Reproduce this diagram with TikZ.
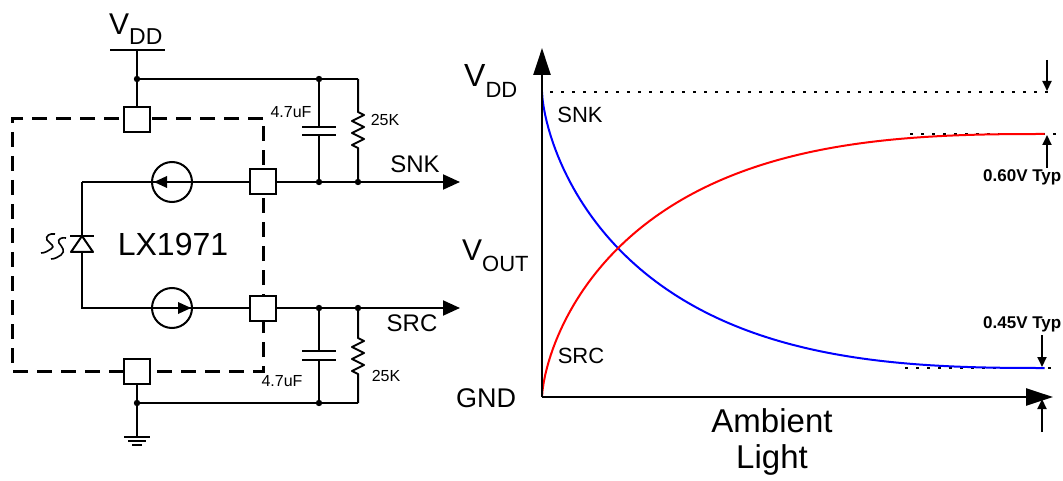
\documentclass[tikz,border=0pt]{standalone}
\usepackage{fontspec}
\setmainfont{Liberation Sans}
\usetikzlibrary{arrows.meta}
\newcommand\fsz[1]{\fontsize{#1}{#1}\selectfont}
\tikzset{
  wire/.style={line width=2pt},
  pinbox/.style={draw, fill=white, line width=2pt, minimum width=26pt, minimum height=25pt, inner sep=0pt},
  isrc/.style={draw, circle, line width=2pt, minimum size=40pt, inner sep=0pt},
  lbl/.style={inner sep=0pt},
  typline/.style={dash pattern=on 2.5pt off 8.5pt, line width=2.5pt},
  bigtip/.style={-{Triangle[length=17pt,width=15pt]}},
  axtip/.style={-{Triangle[length=27pt,width=17pt]}},
  smalltip/.style={-{Triangle[length=10pt,width=9pt]}},
}
\begin{document}
\begin{tikzpicture}[x=1pt,y=-1pt]
\useasboundingbox (0,0) rectangle (1063,481);

\draw[line width=3pt, dash pattern=on 15pt off 9pt] (263,119) -- (12,119) -- (12,371) -- (263,371) -- cycle;
\node[pinbox] (pvdd) at (137,120) {};
\node[pinbox] (psnk) at (263,182) {};
\node[pinbox] (psrc) at (263,308) {};
\node[pinbox] (pgnd) at (137,371) {};
\node[isrc] (isnk) at (172,182) {};
\node[isrc] (isrcs) at (172,308) {};

\coordinate (vbar) at (137,50);
\coordinate (jv) at (137,79);
\coordinate (jc1) at (319,79);
\coordinate (rc1) at (358,79);
\coordinate (jsnkc) at (319,182);
\coordinate (jsnkr) at (358,182);
\coordinate (snkend) at (460,182);
\coordinate (dtop) at (82,182);
\coordinate (dbot) at (82,308);
\coordinate (jsrcc) at (319,308);
\coordinate (jsrcr) at (358,308);
\coordinate (srcend) at (460,308);
\coordinate (jg) at (137,403);
\coordinate (jc2) at (319,403);
\coordinate (rc2) at (358,403);
\coordinate (gnd) at (137,437);
\coordinate (c1a) at (319,127);
\coordinate (c1b) at (319,135);
\coordinate (c2a) at (319,351);
\coordinate (c2b) at (319,360);

\draw[wire] (110,50) -- (165,50);
\draw[wire] (vbar) -- (jv) -- (pvdd);
\draw[wire] (jv) -- (jc1) -- (rc1);
\draw[wire] (dtop) -- (psnk);
\draw[wire, bigtip] (psnk) -- (snkend);
\draw[wire] (dtop) -- (dbot) -- (psrc);
\draw[wire, bigtip] (psrc) -- (srcend);
\draw[wire] (pgnd) -- (jg) -- (gnd);
\draw[wire] (jg) -- (jc2) -- (rc2);

\draw[wire] (jc1) -- (c1a) (c1b) -- (jsnkc);
\draw[wire] ([xshift=-17pt]c1a) -- ([xshift=17pt]c1a) ([xshift=-17pt]c1b) -- ([xshift=17pt]c1b);
\draw[wire] (jsrcc) -- (c2a) (c2b) -- (jc2);
\draw[wire] ([xshift=-17pt]c2a) -- ([xshift=17pt]c2a) ([xshift=-17pt]c2b) -- ([xshift=17pt]c2b);
\draw[wire, line join=round] (rc1) -- (358,112) -- ++(6,3) -- ++(-12,6) -- ++(12,6) -- ++(-12,6) -- ++(12,6) -- ++(-12,6) -- ++(6,3) -- (jsnkr);
\draw[wire, line join=round] (jsrcr) -- (358,338) -- ++(6,3) -- ++(-12,6) -- ++(12,6) -- ++(-12,6) -- ++(12,6) -- ++(-12,6) -- ++(6,3) -- (rc2);

\draw[wire] (124,437) -- (150,437) (128,441) -- (146,441) (132,445) -- (142,445);
\foreach \j in {jv,jc1,jsnkc,jsnkr,jsrcc,jsrcr,jg,jc2} \fill (\j) circle (3.2pt);

\fill (154,182) -- (167,176) -- (167,188) -- cycle;
\fill (191,308) -- (178,302) -- (178,314) -- cycle;
\draw[wire, fill=white, line join=round] (82,236) -- (71,252) -- (93,252) -- cycle;
\draw[wire] (70,236) -- (94,236);
\draw[line width=1.6pt] (55,234) .. controls (50,233) and (45,236) .. (47,240) .. controls (50,244) and (56,246) .. (51,249) .. controls (48,251) and (45,253) .. (41,253);
\draw[line width=1.6pt] (66,238) .. controls (62,237) and (57,239) .. (59,243) .. controls (62,247) and (66,251) .. (61,255) .. controls (58,257) and (55,259) .. (51,259);

\node[lbl, anchor=base west] (vddc) at (109,35) {\fsz{30}V\raisebox{-10pt}{\fsz{23}DD}};
\node[lbl] (chip) at (173,244) {\fsz{32}LX1971};
\node[lbl] (cap1) at (291,112) {\fsz{16}4.7uF};
\node[lbl] (res1) at (385,120) {\fsz{16}25K};
\node[lbl] (snkc) at (415,164) {\fsz{24}SNK};
\node[lbl] (srcc) at (412,323) {\fsz{24}SRC};
\node[lbl] (cap2) at (282,381) {\fsz{16}4.7uF};
\node[lbl] (res2) at (386,376) {\fsz{16}25K};

\coordinate (org) at (542,397);
\coordinate (ytip) at (542,48);
\coordinate (xtip) at (1053,397);
\draw[typline] (550,92) -- (1052,92);
\draw[typline] (910,134) -- (1056,134);
\draw[typline] (905,368) -- (1053,368);
\draw[blue, line width=2pt] plot[domain=0:1, samples=90, variable=\u] ({542+503*\u*sqrt(\u)}, {92+276*(1-(1-\u)*(1-\u)*sqrt(1-\u))});
\draw[red, line width=2pt] plot[domain=0:1, samples=90, variable=\u] ({542+503*\u*sqrt(\u)}, {397-263*(1-(1-\u)*(1-\u)*sqrt(1-\u))});
\draw[line width=2.5pt, axtip] (org) -- (ytip);
\draw[line width=2.5pt, axtip] (org) -- (xtip);
\draw[wire, smalltip] (1047,60) -- (1047,91);
\draw[wire, smalltip] (1047,168) -- (1047,135);
\draw[wire, smalltip] (1042,335) -- (1042,367);
\draw[wire, smalltip] (1042,432) -- (1042,399);

\node[lbl, anchor=base west] (vddg) at (464,87) {\fsz{32}V\raisebox{-11pt}{\fsz{22}DD}};
\node[lbl, anchor=base west] (vout) at (462,260) {\fsz{30}V\raisebox{-12pt}{\fsz{22}OUT}};
\node[lbl] (snkg) at (580,115) {\fsz{22}SNK};
\node[lbl] (srcg) at (581,356) {\fsz{22}SRC};
\node[lbl] (gndg) at (486,398) {\fsz{27}GND};
\node[lbl, anchor=base] (amb) at (772,432) {\fsz{33}Ambient};
\node[lbl, anchor=base] (light) at (772,468) {\fsz{33}Light};
\node[lbl, anchor=base west] (typhi) at (983,182) {\fsz{17}\bfseries 0.60V Typ};
\node[lbl, anchor=base west] (typlo) at (983,328) {\fsz{17}\bfseries 0.45V Typ};
\end{tikzpicture}
\end{document}
